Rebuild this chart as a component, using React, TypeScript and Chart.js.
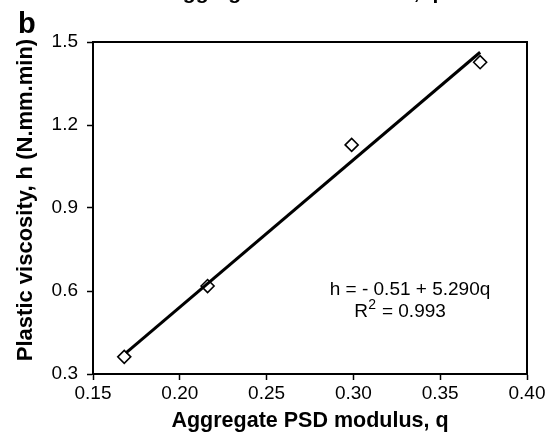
import React, { useEffect, useRef } from "react";
import { Chart, registerables } from "chart.js";

Chart.register(...registerables);

// ---- data ----
const measuredQ = [0.168, 0.216, 0.299, 0.373];
const measuredH = [0.362, 0.618, 1.128, 1.427];
const fitQ = [0.169, 0.373];
const fitH = [0.376, 1.463];
const xTicks = [0.15, 0.2, 0.25, 0.3, 0.35, 0.4];
const yTicks = [0.3, 0.6, 0.9, 1.2, 1.5];
const xTitle = "Aggregate PSD modulus, q";
const yTitle = "Plastic viscosity, h (N.mm.min)";
const panelLabel = "b";
const equationText = "h = - 0.51 + 5.290q";
const r2Parts = ["R", "2", " = 0.993"];
const topCutText = "Aggregate PSD modulus, q";

const FONT = "'Liberation Sans', Arial, sans-serif";

const extrasPlugin = {
  id: "extras",
  afterDraw(chart: any) {
    const ctx = chart.ctx as CanvasRenderingContext2D;
    const a = chart.chartArea;
    ctx.save();
    // plot frame
    ctx.strokeStyle = "#000";
    ctx.lineWidth = 2;
    ctx.strokeRect(a.left, a.top, a.right - a.left, a.bottom - a.top);

    ctx.fillStyle = "#000";
    // panel label
    ctx.font = `bold 29px ${FONT}`;
    ctx.textAlign = "left";
    ctx.textBaseline = "alphabetic";
    ctx.fillText(panelLabel, 18, 33);

    // cropped title of panel above
    ctx.font = `bold 21px ${FONT}`;
    ctx.textAlign = "center";
    ctx.fillText(topCutText, 303, -1);

    // y-axis title
    ctx.save();
    ctx.translate(26, 200);
    ctx.rotate(-Math.PI / 2);
    ctx.font = `bold 22px ${FONT}`;
    ctx.textAlign = "center";
    ctx.textBaseline = "middle";
    ctx.fillText(yTitle, 0, 0);
    ctx.restore();

    // equation
    ctx.font = `19px ${FONT}`;
    ctx.textAlign = "center";
    ctx.textBaseline = "alphabetic";
    ctx.fillText(equationText, 410, 295);

    // R^2 line
    const big = `19px ${FONT}`;
    const small = `14px ${FONT}`;
    ctx.font = big;
    const w0 = ctx.measureText(r2Parts[0]).width;
    const w2 = ctx.measureText(r2Parts[2]).width;
    ctx.font = small;
    const w1 = ctx.measureText(r2Parts[1]).width + 1;
    const total = w0 + w1 + w2;
    let x = 400 - total / 2;
    ctx.textAlign = "left";
    ctx.font = big;
    ctx.fillText(r2Parts[0], x, 317);
    x += w0;
    ctx.font = small;
    ctx.fillText(r2Parts[1], x + 0.5, 309);
    x += w1;
    ctx.font = big;
    ctx.fillText(r2Parts[2], x, 317);
    ctx.restore();
  },
};

export default function App() {
  const ref = useRef<HTMLCanvasElement | null>(null);

  useEffect(() => {
    if (!ref.current) return;
    const chart = new Chart(ref.current, {
      type: "scatter",
      data: {
        datasets: [
          {
            label: "measured",
            data: measuredQ.map((q, i) => ({ x: q, y: measuredH[i] })),
            pointStyle: "rectRot",
            pointRadius: 6.5,
            pointBackgroundColor: "#fff",
            pointBorderColor: "#000",
            pointBorderWidth: 1.6,
            showLine: false,
            order: 1,
          },
          {
            label: "fit",
            data: fitQ.map((q, i) => ({ x: q, y: fitH[i] })),
            showLine: true,
            borderColor: "#000",
            borderWidth: 3,
            pointRadius: 0,
            order: 0,
          },
        ],
      },
      options: {
        animation: false,
        responsive: false,
        devicePixelRatio: 1,
        layout: { padding: { top: 42, right: 26, left: 0, bottom: 0 } },
        plugins: {
          legend: { display: false },
          tooltip: { enabled: false },
          title: { display: false },
        },
        scales: {
          x: {
            type: "linear",
            min: 0.15,
            max: 0.4,
            afterBuildTicks: (s: any) => {
              s.ticks = xTicks.map((v) => ({ value: v }));
            },
            afterFit: (s: any) => {
              s.height = 58;
            },
            ticks: {
              color: "#000",
              font: { family: FONT, size: 19 },
              padding: 2,
              maxRotation: 0,
              callback: (v: any) => Number(v).toFixed(2),
            },
            grid: {
              drawOnChartArea: false,
              drawTicks: true,
              tickLength: 6,
              tickColor: "#000",
              tickWidth: 1.5,
            },
            border: { display: true, color: "#000", width: 2 },
            title: {
              display: true,
              text: xTitle,
              color: "#000",
              font: { family: FONT, size: 21.5, weight: "bold", lineHeight: 1 },
              padding: { top: 0.3, bottom: 0 },
            },
          },
          y: {
            type: "linear",
            min: 0.3,
            max: 1.5,
            afterBuildTicks: (s: any) => {
              s.ticks = yTicks.map((v) => ({ value: v }));
            },
            afterFit: (s: any) => {
              s.width = 93;
            },
            ticks: {
              color: "#000",
              font: { family: FONT, size: 19 },
              padding: 9,
              callback: (v: any) => Number(v).toFixed(1),
            },
            grid: {
              drawOnChartArea: false,
              drawTicks: true,
              tickLength: 6,
              tickColor: "#000",
              tickWidth: 1.5,
            },
            border: { display: true, color: "#000", width: 2 },
            title: { display: false },
          },
        },
      },
      plugins: [extrasPlugin],
    });
    return () => chart.destroy();
  }, []);

  return (
    <div style={{ position: "absolute", left: 0, top: 0, width: 553, height: 432, background: "#fff" }}>
      <canvas ref={ref} width={553} height={432} style={{ display: "block" }} />
    </div>
  );
}
